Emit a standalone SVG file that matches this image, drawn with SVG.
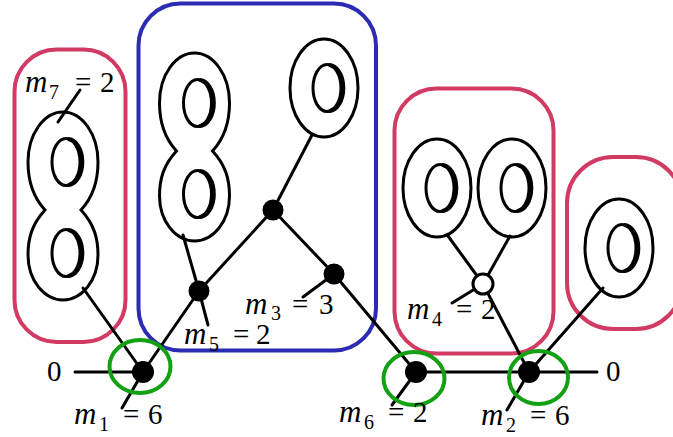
<svg xmlns="http://www.w3.org/2000/svg" xmlns:xlink="http://www.w3.org/1999/xlink" width="673" height="437" viewBox="0 0 673 437">
<style>
.box{fill:none;stroke-width:4}
.pink{stroke:#D13B63}
.blue{stroke:#2B2BB3}
.green{fill:none;stroke:#13A013;stroke-width:4}
.ln{stroke:#000;stroke-width:3;fill:none;stroke-linecap:round}
.sh{fill:none;stroke:#000;stroke-width:3}
.node{fill:#000}
.hnode{fill:#fff;stroke:#000;stroke-width:3}
.m{font-style:italic;font-size:31px}
.sub{font-size:20px}
</style>
<defs>
<g id="hole">
<ellipse cx="0" cy="0" rx="14" ry="23.5" class="sh"/>
<path d="M 2,-23 A 14 22.5 0 0 1 2,23" fill="none" stroke="#000" stroke-width="4"/>
<path d="M 1,-23.5 L 6,-20.5 M 1,23.5 L 6,20.5" fill="none" stroke="#000" stroke-width="2.5"/>
</g>
<g id="eight">
<path class="sh" d="M 45,210 C 32,196 28,180 28,162 C 28,134 44,112 63,112 C 82,112 98,134 98,162 C 98,180 94,196 81,210 C 94,224 98,238 98,255 C 98,280 82,300 63,300 C 44,300 28,280 28,255 C 28,238 32,224 45,210 Z"/>
<use xlink:href="#hole" x="66" y="162"/>
<use xlink:href="#hole" x="66" y="253"/>
</g>
<g id="torus">
<ellipse cx="0" cy="0" rx="34" ry="49" class="sh"/>
<use xlink:href="#hole" x="3" y="0"/>
</g>
</defs>

<g id="boxes">
<rect id="box-left" class="box pink" x="14.5" y="49.5" width="111" height="292.5" rx="42"/>
<rect id="box-blue" class="box blue" x="138.5" y="3.5" width="237.5" height="347" rx="42"/>
<rect id="box-mid" class="box pink" x="394.5" y="88.5" width="159" height="265" rx="42"/>
<rect id="box-right" class="box pink" x="567" y="157" width="115" height="172" rx="46"/>
</g>

<g id="connectors">
<line class="ln" x1="83" y1="288" x2="143" y2="372"/>
<line class="ln" x1="143" y1="372" x2="199" y2="291"/>
<line class="ln" x1="199" y1="291" x2="183" y2="235"/>
<line class="ln" x1="199" y1="291" x2="273" y2="210"/>
<line class="ln" x1="273" y1="210" x2="312" y2="135"/>
<line class="ln" x1="273" y1="210" x2="334" y2="274"/>
<line class="ln" x1="334" y1="274" x2="416" y2="372"/>
<line class="ln" x1="416" y1="372" x2="597" y2="372"/>
<line class="ln" x1="75" y1="372" x2="143" y2="372"/>
<line class="ln" x1="448" y1="236" x2="483" y2="284"/>
<line class="ln" x1="510" y1="236" x2="483" y2="284"/>
<line class="ln" x1="483" y1="284" x2="529" y2="372"/>
<line class="ln" x1="529" y1="372" x2="603" y2="288"/>
<line class="ln" x1="80" y1="90" x2="58" y2="122"/>
<line class="ln" x1="143" y1="372" x2="122" y2="408"/>
<line class="ln" x1="199" y1="291" x2="208" y2="325"/>
<line class="ln" x1="334" y1="274" x2="303" y2="297"/>
<line class="ln" x1="483" y1="284" x2="452" y2="303"/>
<line class="ln" x1="416" y1="372" x2="392" y2="405"/>
<line class="ln" x1="529" y1="372" x2="507" y2="410"/>
</g>

<g id="surface-m7"><use xlink:href="#eight"/></g>
<g id="surface-blue8"><use xlink:href="#eight" transform="translate(131.5,-59)"/></g>
<g id="torus-blue"><use xlink:href="#torus" x="324" y="88"/></g>
<g id="torus-mid-left"><use xlink:href="#torus" x="437" y="188"/></g>
<g id="torus-mid-right"><use xlink:href="#torus" x="512" y="188"/></g>
<g id="torus-right"><use xlink:href="#torus" x="619" y="248"/></g>

<g id="node-m1"><circle class="node" cx="143" cy="372" r="11"/><ellipse class="green" cx="140" cy="366.5" rx="30.5" ry="26.5"/></g>
<g id="node-m5"><circle class="node" cx="199" cy="291" r="10.5"/></g>
<g id="node-top"><circle class="node" cx="273" cy="210" r="10.5"/></g>
<g id="node-m3"><circle class="node" cx="334" cy="274" r="10.5"/></g>
<g id="node-m4"><circle class="hnode" cx="483" cy="284" r="10"/></g>
<g id="node-m6"><circle class="node" cx="416" cy="372" r="11"/><ellipse class="green" cx="414" cy="378.5" rx="30.5" ry="26.5"/></g>
<g id="node-m2"><circle class="node" cx="529" cy="372" r="11"/><ellipse class="green" cx="538.5" cy="377.5" rx="29.5" ry="26.5"/></g>

<g id="labels" font-family="'Liberation Serif', 'Times New Roman', serif" font-size="29" fill="#000">
<text x="47" y="381">0</text>
<text x="606" y="381">0</text>
<text><tspan class="m" x="25" y="92">m</tspan><tspan class="sub" x="49" y="99">7</tspan><tspan x="75" y="92">=</tspan><tspan x="100" y="92">2</tspan></text>
<text><tspan class="m" x="184" y="344">m</tspan><tspan class="sub" x="209" y="351">5</tspan><tspan x="233" y="344">=</tspan><tspan x="256" y="344">2</tspan></text>
<text><tspan class="m" x="245" y="314">m</tspan><tspan class="sub" x="271" y="320">3</tspan><tspan x="292" y="314">=</tspan><tspan x="319" y="314">3</tspan></text>
<text><tspan class="m" x="407" y="319">m</tspan><tspan class="sub" x="432" y="326">4</tspan><tspan x="456" y="319">=</tspan><tspan x="481" y="319">2</tspan></text>
<text><tspan class="m" x="74" y="424">m</tspan><tspan class="sub" x="99" y="431">1</tspan><tspan x="123" y="424">=</tspan><tspan x="148" y="424">6</tspan></text>
<text><tspan class="m" x="339" y="422">m</tspan><tspan class="sub" x="364" y="429">6</tspan><tspan x="388" y="422">=</tspan><tspan x="413" y="422">2</tspan></text>
<text><tspan class="m" x="481" y="425">m</tspan><tspan class="sub" x="506" y="432">2</tspan><tspan x="530" y="425">=</tspan><tspan x="555" y="425">6</tspan></text>
</g>
</svg>
